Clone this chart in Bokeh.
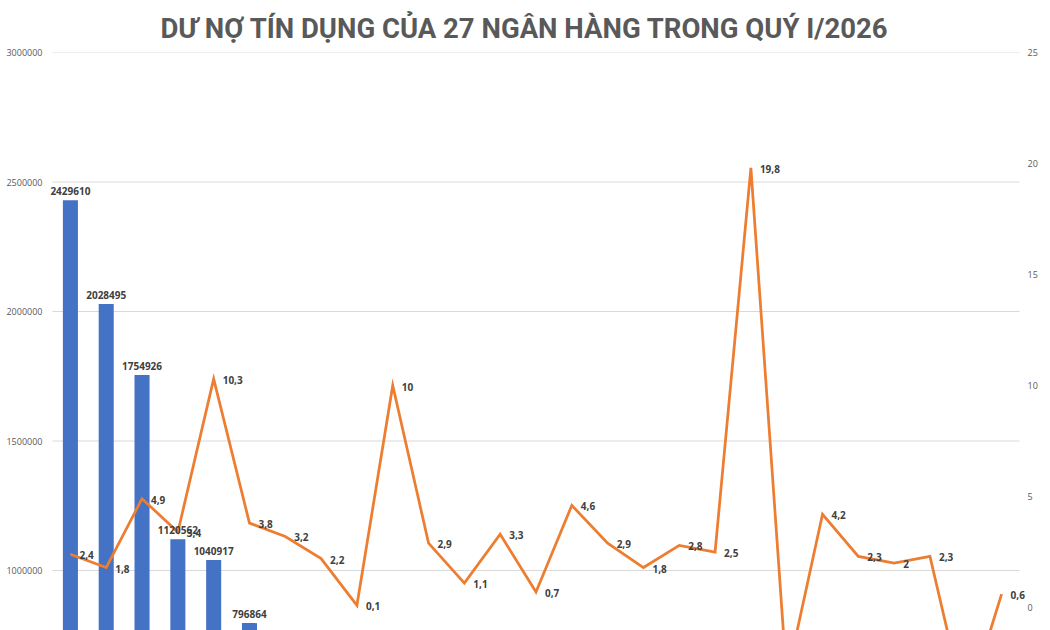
import numpy as np
from bokeh.plotting import figure
from bokeh.models import (Range1d, LinearAxis, SingleIntervalTicker, BasicTickFormatter,
                          ColumnDataSource, Label)
from bokeh.embed import file_html
from bokeh.resources import INLINE

title_text = "DƯ NỢ TÍN DỤNG CỦA 27 NGÂN HÀNG TRONG QUÝ I/2026"

banks = ["BIDV", "VietinBank", "Vietcombank", "MB", "Techcombank", "VPBank", "ACB",
         "Sacombank", "SHB", "HDBank", "LPBank", "VIB", "SeABank", "TPBank", "MSB",
         "OCB", "Eximbank", "Nam A Bank", "ABBank", "BacABank", "VietBank", "PGBank",
         "NCB", "Kienlongbank", "BVBank", "VietABank", "Saigonbank"]

# Dư nợ tín dụng (tỷ đồng) - left axis
credit = [2429610, 2028495, 1754926, 1120562, 1040917, 796864, 735000, 702000, 668000,
          610000, 548000, 487000, 452000, 398000, 352000, 318000, 286000, 247000,
          213000, 178000, 156000, 131000, 112000, 96000, 74000, 58000, 41000]

# Tăng trưởng tín dụng (%) - right axis
growth = [2.4, 1.8, 4.9, 3.4, 10.3, 3.8, 3.2, 2.2, 0.1, 10, 2.9, 1.1, 3.3, 0.7, 4.6,
          2.9, 1.8, 2.8, 2.5, 19.8, -3.2, 4.2, 2.3, 2, 2.3, -4.6, 0.6]

left_ticks_interval = 500000
right_ticks_interval = 5

# visible window of the (cropped) chart
left_lo, left_hi = 768340, 3000000
right_lo, right_hi = -1.036, 25

n = len(banks)
pos = list(range(n))            # category slots
cat_px = 35.815                 # pixel width of one category slot
pad_l, pad_r = 6 / cat_px, 8 / cat_px   # room for labels past the plot area

src = ColumnDataSource(dict(bank=banks, x=pos, credit=credit, growth=growth))

p = figure(x_range=Range1d(-0.5 - pad_l, n - 0.5 + pad_r), y_range=Range1d(left_lo, left_hi),
           width=1050, height=630, output_backend="svg", toolbar_location=None,
           min_border_left=46, min_border_right=23, min_border_top=52, min_border_bottom=0)
p.extra_y_ranges = {"right": Range1d(right_lo, right_hi)}

p.title.text = title_text
p.title.align = "left"
p.title.offset = 114
p.title.text_font = "Roboto"
p.title.text_font_style = "bold"
p.title.text_font_size = "27.5px"
p.title.text_color = "#595959"
p.title.standoff = 16

p.xaxis.visible = False
p.xgrid.visible = False
p.ygrid.visible = False
p.outline_line_color = None

# horizontal gridlines across the category area only
grid_y = np.arange(np.ceil(left_lo / left_ticks_interval) * left_ticks_interval,
                   left_hi + 1, left_ticks_interval)
p.segment(x0=[-0.5] * len(grid_y), x1=[n - 0.5] * len(grid_y), y0=grid_y, y1=grid_y,
          line_color="#D9D9D9", line_width=1)

yl = p.yaxis[0]
yl.ticker = SingleIntervalTicker(interval=left_ticks_interval)
yl.formatter = BasicTickFormatter(use_scientific=False)

yr = LinearAxis(y_range_name="right", ticker=SingleIntervalTicker(interval=right_ticks_interval))
p.add_layout(yr, "right")

for ax in (yl, yr):
    ax.axis_line_color = None
    ax.major_tick_line_color = None
    ax.minor_tick_line_color = None
    ax.major_tick_out = 0
    ax.major_tick_in = 0
    ax.minor_tick_out = 0
    ax.minor_tick_in = 0
    ax.major_label_text_font_size = "9px"
    ax.major_label_text_color = "#595959"
    ax.major_label_text_font = "Open Sans"
yl.major_label_standoff = 4
yr.major_label_standoff = 0

p.vbar(x="x", top="credit", bottom=0, width=0.42, source=src,
       fill_color="#4472C4", line_color=None)
p.line(x="x", y="growth", source=src, y_range_name="right",
       line_color="#ED7D31", line_width=2.75, line_join="miter")

lab_style = dict(text_font="Open Sans", text_font_style="bold",
                 text_font_size="10px", text_color="#404040")

# data labels (only those inside the visible window of the cropped chart)
for i, v in zip(pos, credit):
    if v >= left_lo:
        p.add_layout(Label(x=i, y=v, text=str(v), text_align="center",
                           text_baseline="bottom", y_offset=5, **lab_style))
for i, v in zip(pos, growth):
    if v >= right_lo:
        p.add_layout(Label(x=i, y=v, y_range_name="right",
                           text=f"{v:g}".replace(".", ","), text_align="left",
                           text_baseline="middle", x_offset=9, y_offset=-1, **lab_style))

open("out.html", "w").write(file_html(p, INLINE))
